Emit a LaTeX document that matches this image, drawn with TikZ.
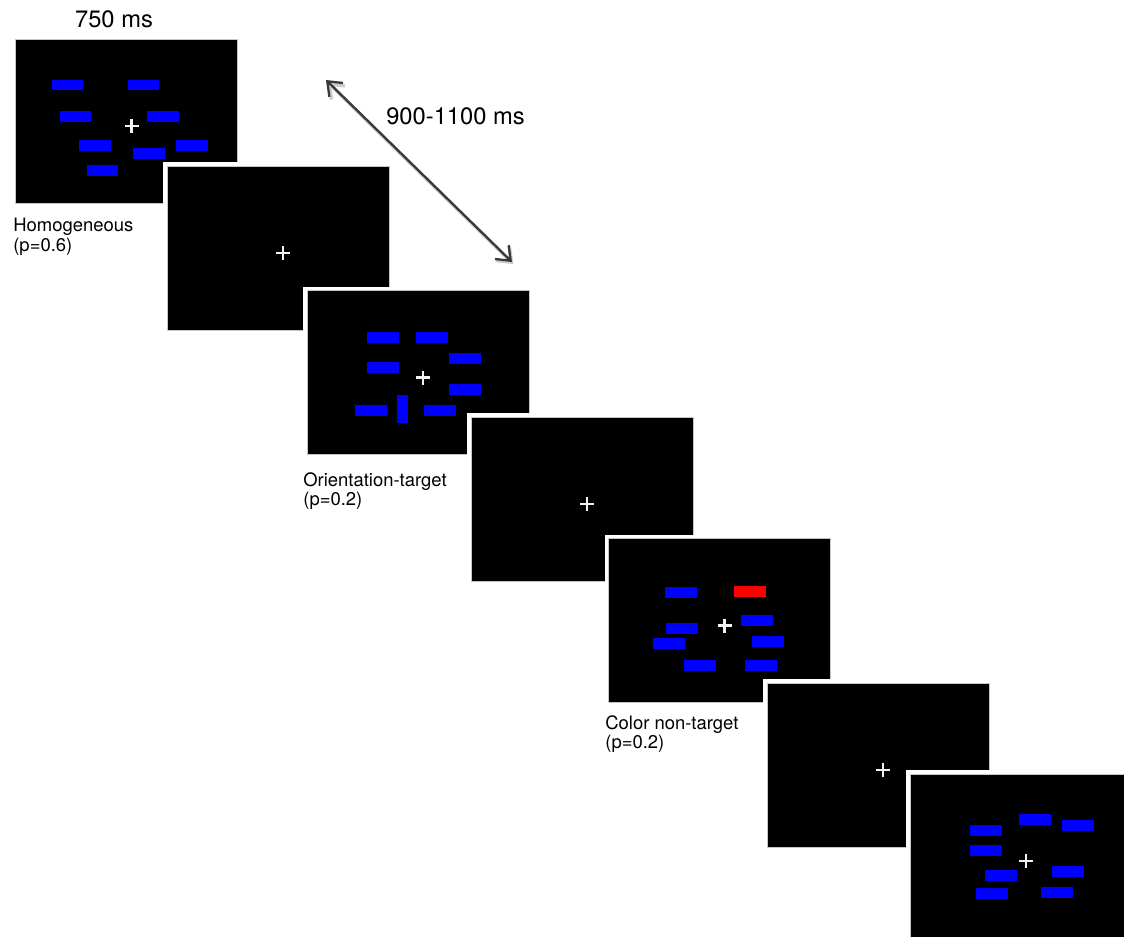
\documentclass[tikz,border=0pt]{standalone}
\usepackage{fontspec}
\setmainfont{TeX Gyre Heros}
\usetikzlibrary{arrows.meta}

\begin{document}
\begin{tikzpicture}[x=0.02cm, y=-0.02cm,
		screen/.style={rectangle, fill=black, draw=gray!45, line width=0.5pt, minimum width=4.44cm, minimum height=3.28cm, inner sep=0pt, preaction={draw=white, line width=4.5pt}},
		bar/.style={rectangle, fill=blue, inner sep=0pt, minimum width=0.64cm, minimum height=0.22cm},
		vbar/.style={bar, minimum width=0.22cm, minimum height=0.56cm},
		redbar/.style={bar, fill=red},
		fixcross/.style={white!90!gray, line width=1.2pt},
		caption/.style={anchor=north west, align=left, inner sep=0pt, font=\fontsize{10.5}{9.4}\selectfont},
		timing/.style={inner sep=0pt, font=\fontsize{13.5}{16}\selectfont},
		interval/.style={{Straight Barb[length=7pt,width=11pt]}-{Straight Barb[length=7pt,width=11pt]}, line width=1.3pt, black!78}]
		\useasboundingbox (0,0) rectangle (1124,936);

		% Screens
		\foreach \i/\x/\y in {1/126.5/121, 2/278/248, 3/418/372.5, 4/582/499, 5/719.5/620.5, 6/878/765, 7/1021/856}
			\node[screen] (scr\i) at (\x,\y) {};

		% Bars
		\foreach \x/\y [count=\k] in {67.5/85, 143.5/85, 75.5/116.5, 163/116.5, 95/145, 191.5/145, 149/153, 102.5/170}
			\node[bar] (hom\k) at (\x,\y) {};
		\foreach \x/\y [count=\k] in {383/337, 431.5/337, 464.5/358, 383/367.5, 464.5/389, 370.5/410, 439.5/410}
			\node[bar] (ori\k) at (\x,\y) {};
		\node[vbar] (oritarget) at (402.5,409) {};
		\foreach \x/\y [count=\k] in {681/592.5, 756.5/620, 681.5/628.5, 767.5/641, 668.5/643.5, 699.5/665.5, 760.5/665.5}
			\node[bar] (col\k) at (\x,\y) {};
		\node[redbar] (colred) at (750,591.5) {};
		\foreach \x/\y [count=\k] in {1035/819.5, 1077.5/825.5, 985.5/830.5, 985.5/850.5, 1067.5/871.5, 1000.5/875, 991.5/893.5, 1056.5/892.5}
			\node[bar] (nxt\k) at (\x,\y) {};

		% Fixation crosses
		\foreach \i in {1,...,7} {
			\path (scr\i.center) ++(5,5) coordinate (fix\i);
			\draw[fixcross] (fix\i) +(-7,0) -- +(7,0) +(0,-7) -- +(0,7);
		}

		% Labels
		\node[timing] (dur) at (114,19) {750 ms};
		\node[timing] (isi) at (455.5,116) {900-1100 ms};
		\node[caption] (homlab) at (13,218) {Homogeneous\\(p=0.6)};
		\node[caption] (orilab) at (303,472) {Orientation-target\\(p=0.2)};
		\node[caption] (collab) at (605,715) {Color non-target\\(p=0.2)};

		% Arrows
		\coordinate (isistart) at (326,80);
		\coordinate (isiend) at (512,262);
		\draw[interval, preaction={draw=black!20, line width=2pt, transform canvas={shift={(0.8pt,-1.2pt)}}}] (isistart) -- (isiend);
	\end{tikzpicture}
\end{document}
